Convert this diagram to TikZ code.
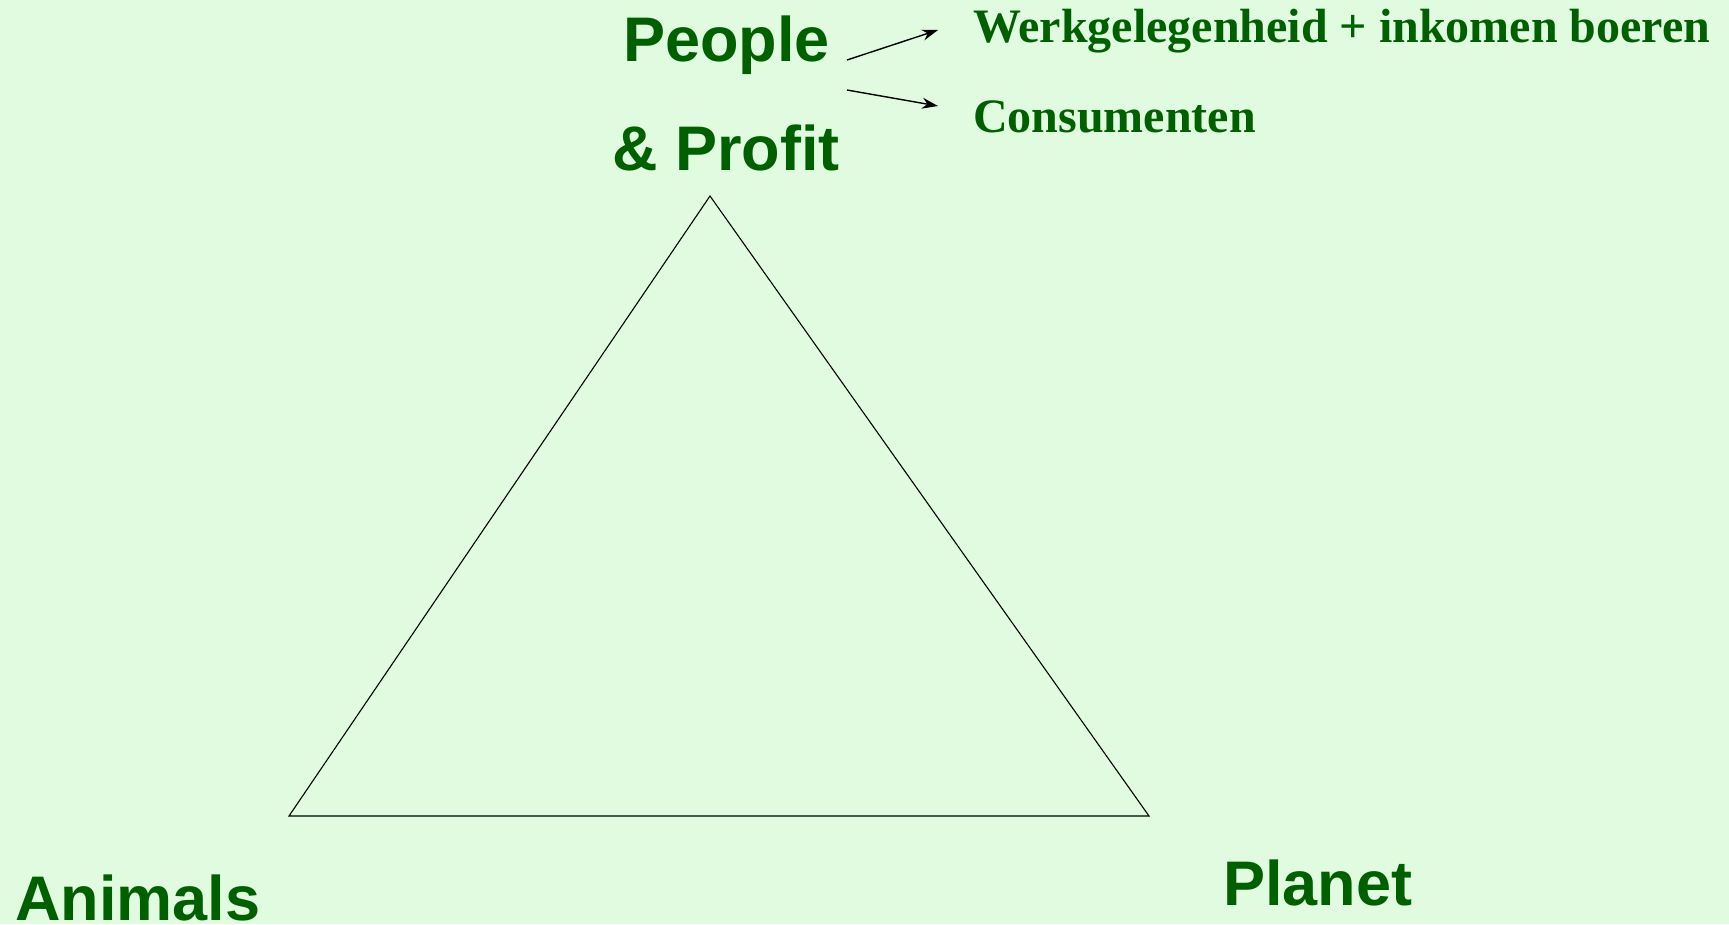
\documentclass[tikz,border=0pt]{standalone}
\usepackage{fontspec}
\setmainfont{Liberation Serif}
\setsansfont{Liberation Sans}
\usetikzlibrary{arrows.meta}
\definecolor{bg}{RGB}{224,251,224}
\definecolor{tgreen}{RGB}{0,96,0}
\begin{document}
\begin{tikzpicture}[x=1pt,y=-1pt,
  big/.style={font=\sffamily\bfseries\fontsize{63}{63}\selectfont, text=tgreen, inner sep=0pt, anchor=base west},
  small/.style={font=\rmfamily\bfseries\fontsize{48}{48}\selectfont, text=tgreen, inner sep=0pt, anchor=base west},
  arr/.style={-{Stealth[length=16pt,width=11pt]}, line width=1.4pt}]
\fill[bg] (0,0) rectangle (1729,924);
\useasboundingbox (0,0) rectangle (1729,924);
% triangle
\coordinate (top) at (710,196);
\coordinate (bl) at (289,816);
\coordinate (br) at (1149,816);
\draw[line width=1.1pt, line join=miter] (top) -- (bl) -- (br) -- cycle;
% labels
\node[big] (people) at (623,61) {People};
\node[big] (profit) at (612,170) {\& Profit};
\node[big] (animals) at (15,920) {Animals};
\node[big] (planet) at (1223,905) {Planet};
\node[small] (werk) at (973,42) {Werkgelegenheid + inkomen boeren};
\node[small] (cons) at (973,132) {Consumenten};
% arrows
\coordinate (a1s) at (847,60);
\coordinate (a1e) at (938,30);
\coordinate (a2s) at (847,90);
\coordinate (a2e) at (938,106);
\draw[arr] (a1s) -- (a1e);
\draw[arr] (a2s) -- (a2e);
\end{tikzpicture}
\end{document}
